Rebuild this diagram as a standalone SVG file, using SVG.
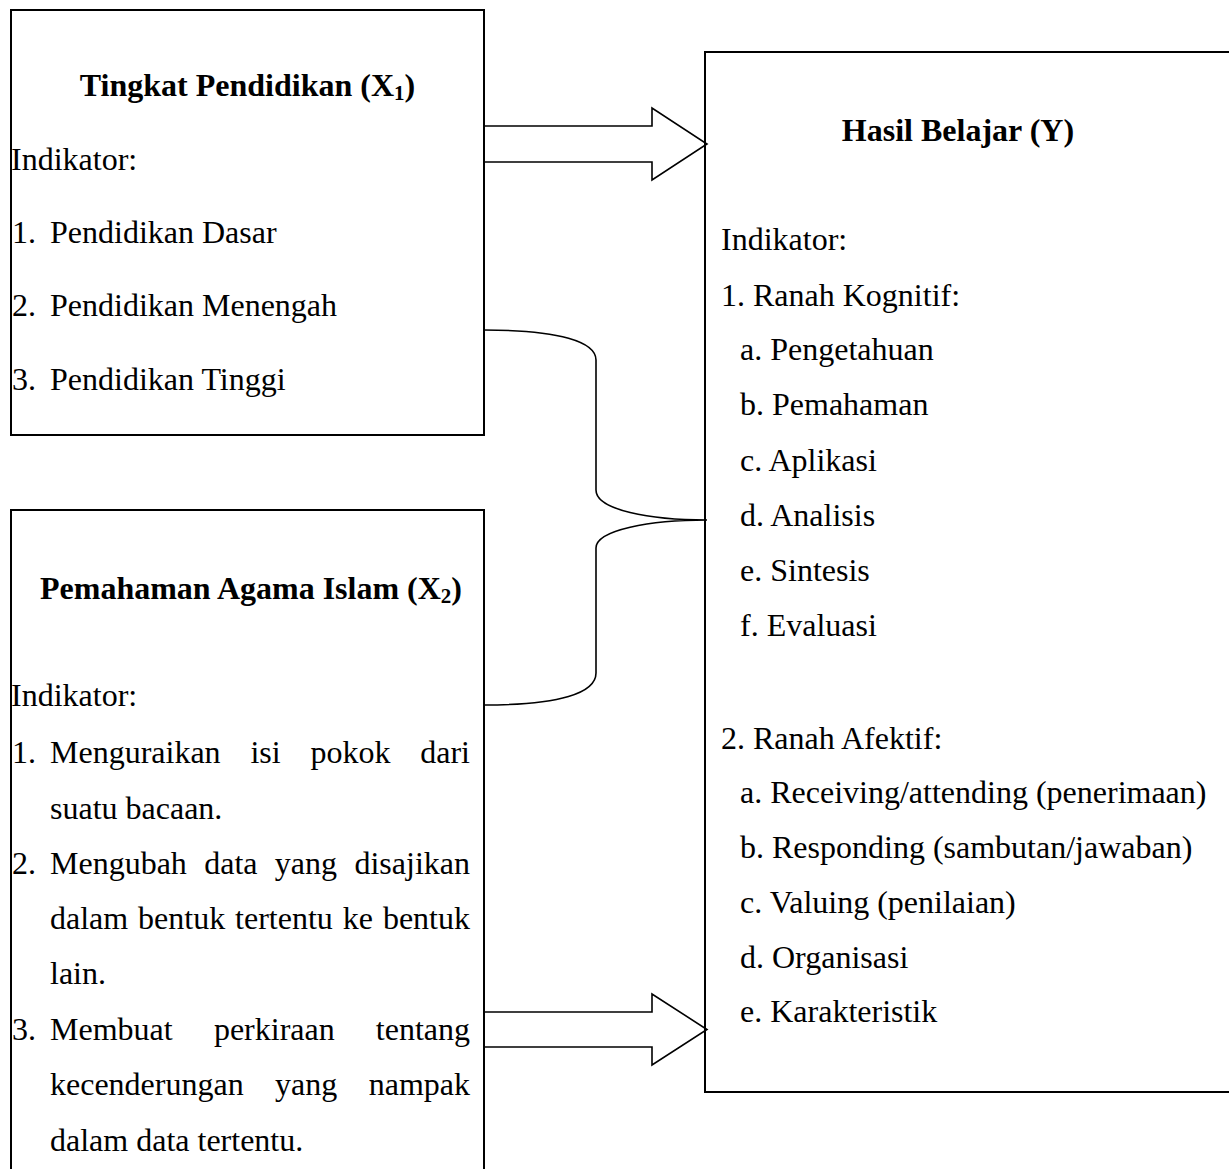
<svg xmlns="http://www.w3.org/2000/svg" width="1229" height="1169" viewBox="0 0 1229 1169">
<style>
text{font-family:"Liberation Serif","Times New Roman",serif;font-size:32px;fill:#000}
.b{font-weight:bold}
.box{fill:none;stroke:#000;stroke-width:2}
.con{fill:none;stroke:#000;stroke-width:1.6;stroke-linejoin:miter}
</style>
<rect width="1229" height="1169" fill="#fff"/>
<g id="node-x1">
<rect class="box" x="11" y="10" width="473" height="425"/>
<text class="b" x="247.5" y="96" text-anchor="middle">Tingkat Pendidikan (X<tspan font-size="21" dy="4">1</tspan><tspan dy="-4">)</tspan></text>
<text x="11" y="170">Indikator:</text>
<text x="12" y="242.5">1.</text><text x="50" y="242.5">Pendidikan Dasar</text>
<text x="12" y="315.5">2.</text><text x="50" y="315.5">Pendidikan Menengah</text>
<text x="12" y="390">3.</text><text x="50" y="390">Pendidikan Tinggi</text>
</g>
<g id="node-x2">
<rect class="box" x="11" y="510" width="473" height="720"/>
<text class="b" x="251" y="599" text-anchor="middle">Pemahaman Agama Islam (X<tspan font-size="21" dy="4">2</tspan><tspan dy="-4">)</tspan></text>
<text x="11" y="706">Indikator:</text>
<text x="12" y="762.5">1.</text>
<text x="50" y="762.5">Menguraikan</text><text x="250.4" y="762.5">isi</text><text x="310.4" y="762.5">pokok</text><text x="470" y="762.5" text-anchor="end">dari</text>
<text x="50" y="818.5">suatu bacaan.</text>
<text x="12" y="873.5">2.</text>
<text x="50" y="873.5">Mengubah</text><text x="204.2" y="873.5">data</text><text x="274.8" y="873.5">yang</text><text x="470" y="873.5" text-anchor="end">disajikan</text>
<text x="50" y="928.5">dalam</text><text x="138.1" y="928.5">bentuk</text><text x="235.1" y="928.5">tertentu</text><text x="342.8" y="928.5">ke</text><text x="470" y="928.5" text-anchor="end">bentuk</text>
<text x="50" y="984">lain.</text>
<text x="12" y="1040">3.</text>
<text x="50" y="1040">Membuat</text><text x="213.9" y="1040">perkiraan</text><text x="470" y="1040" text-anchor="end">tentang</text>
<text x="50" y="1095">kecenderungan</text><text x="275.1" y="1095">yang</text><text x="470" y="1095" text-anchor="end">nampak</text>
<text x="50" y="1150.5">dalam data tertentu.</text>
</g>
<g id="node-y">
<rect class="box" x="705" y="52" width="600" height="1040"/>
<text class="b" x="958" y="141" text-anchor="middle">Hasil Belajar (Y)</text>
<text x="721" y="249.5">Indikator:</text>
<text x="721" y="305.5">1. Ranah Kognitif:</text>
<text x="740" y="360">a. Pengetahuan</text>
<text x="740" y="415">b. Pemahaman</text>
<text x="740" y="470.5">c. Aplikasi</text>
<text x="740" y="525.5">d. Analisis</text>
<text x="740" y="580.5">e. Sintesis</text>
<text x="740" y="635.5">f. Evaluasi</text>
<text x="721" y="748.5">2. Ranah Afektif:</text>
<text x="740" y="803">a. Receiving/attending (penerimaan)</text>
<text x="740" y="858">b. Responding (sambutan/jawaban)</text>
<text x="740" y="913">c. Valuing (penilaian)</text>
<text x="740" y="967.5">d. Organisasi</text>
<text x="740" y="1022">e. Karakteristik</text>
</g>
<g id="connectors">
<path class="con" d="M484,126 H652 V108 L707,144 L652,180 V162 H484"/>
<path class="con" d="M484,1012 H652 V994 L707,1029.5 L652,1065 V1047 H484"/>
<path class="con" d="M484,330 C560,330 596,342 596,360 V490 C596,510 650,520 707,520 C650,520 596,530 596,548 V673 C596,693 560,705 484,705"/>
</g>
</svg>
